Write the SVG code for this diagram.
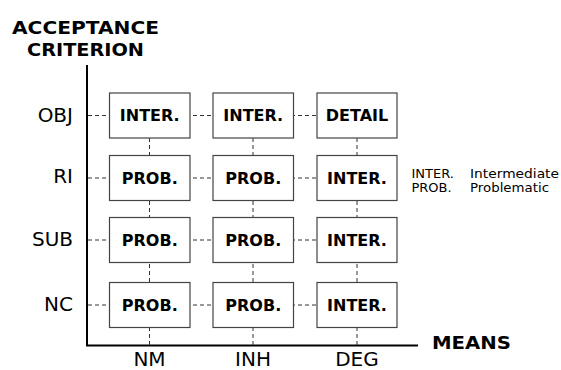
<svg xmlns="http://www.w3.org/2000/svg" width="561" height="370" viewBox="0 0 561 370">
<style>
text{font-family:"DejaVu Sans","Verdana",sans-serif;fill:#000}
.hd{font-size:18.5px;font-weight:bold}
.ax{font-size:20px}
.bx{font-size:16px;font-weight:bold;text-anchor:middle}
.lg{font-size:13px}
.box{fill:#fff;stroke:#444;stroke-width:1.2}
.dash{stroke:#333;stroke-width:1;stroke-dasharray:4 3;fill:none}
.axis{stroke:#000;stroke-width:2;fill:none}
</style>
<rect width="561" height="370" fill="#fff"/>
<g id="titles">
<text class="hd" x="85.5" y="34" text-anchor="middle" textLength="147" lengthAdjust="spacingAndGlyphs">ACCEPTANCE</text>
<text class="hd" x="85.5" y="55.5" text-anchor="middle" textLength="117" lengthAdjust="spacingAndGlyphs">CRITERION</text>
<text class="hd" x="432" y="349.3" textLength="79" lengthAdjust="spacingAndGlyphs">MEANS</text>
</g>
<g id="axes">
<path class="axis" d="M87 65 V345.5 H418"/>
</g>
<g id="row-labels" class="ax">
<text x="73" y="122" text-anchor="end">OBJ</text>
<text x="73" y="183" text-anchor="end">RI</text>
<text x="73" y="245.5" text-anchor="end">SUB</text>
<text x="73" y="310.5" text-anchor="end">NC</text>
</g>
<g id="col-labels" class="ax">
<text x="149.5" y="365.5" text-anchor="middle">NM</text>
<text x="253" y="365.5" text-anchor="middle">INH</text>
<text x="357" y="365.5" text-anchor="middle">DEG</text>
</g>
<g id="connectors">
<path class="dash" d="M88 115.5 H317 M88 178 H317 M88 240 H317 M88 305 H317"/>
<path class="dash" d="M149.5 138 V345 M253 138 V345 M357 138 V345"/>
</g>
<g id="n-obj-nm"><rect class="box" x="109.5" y="93" width="80.5" height="45"/><text class="bx" x="149.75" y="121.3">INTER.</text></g>
<g id="n-obj-inh"><rect class="box" x="213" y="93" width="80.5" height="45"/><text class="bx" x="253.25" y="121.3">INTER.</text></g>
<g id="n-obj-deg"><rect class="box" x="317" y="93" width="80" height="45"/><text class="bx" x="357" y="121.3">DETAIL</text></g>
<g id="n-ri-nm"><rect class="box" x="109.5" y="155.5" width="80.5" height="45"/><text class="bx" x="149.75" y="183.8">PROB.</text></g>
<g id="n-ri-inh"><rect class="box" x="213" y="155.5" width="80.5" height="45"/><text class="bx" x="253.25" y="183.8">PROB.</text></g>
<g id="n-ri-deg"><rect class="box" x="317" y="155.5" width="80" height="45"/><text class="bx" x="357" y="183.8">INTER.</text></g>
<g id="n-sub-nm"><rect class="box" x="109.5" y="217.5" width="80.5" height="45"/><text class="bx" x="149.75" y="245.8">PROB.</text></g>
<g id="n-sub-inh"><rect class="box" x="213" y="217.5" width="80.5" height="45"/><text class="bx" x="253.25" y="245.8">PROB.</text></g>
<g id="n-sub-deg"><rect class="box" x="317" y="217.5" width="80" height="45"/><text class="bx" x="357" y="245.8">INTER.</text></g>
<g id="n-nc-nm"><rect class="box" x="109.5" y="282.5" width="80.5" height="45"/><text class="bx" x="149.75" y="310.8">PROB.</text></g>
<g id="n-nc-inh"><rect class="box" x="213" y="282.5" width="80.5" height="45"/><text class="bx" x="253.25" y="310.8">PROB.</text></g>
<g id="n-nc-deg"><rect class="box" x="317" y="282.5" width="80" height="45"/><text class="bx" x="357" y="310.8">INTER.</text></g>
<g id="legend" class="lg">
<text x="411.5" y="178">INTER.</text>
<text x="470" y="178" textLength="89" lengthAdjust="spacingAndGlyphs">Intermediate</text>
<text x="411.5" y="191.5">PROB.</text>
<text x="470" y="191.5" textLength="79" lengthAdjust="spacingAndGlyphs">Problematic</text>
</g>
</svg>
